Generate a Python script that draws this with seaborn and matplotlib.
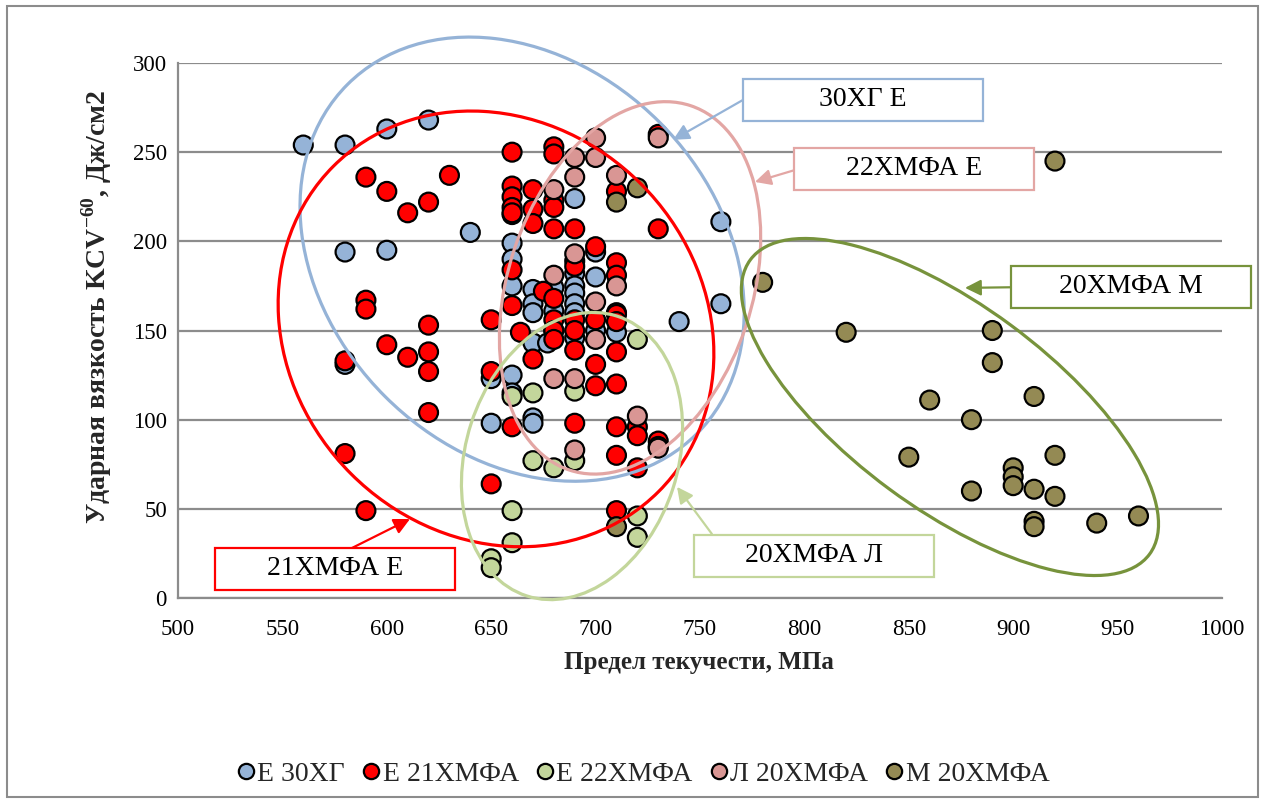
import matplotlib
matplotlib.use("Agg")
import matplotlib.pyplot as plt
import numpy as np
import pandas as pd
import seaborn as sns
from matplotlib.patches import Ellipse, Rectangle
from matplotlib.transforms import ScaledTranslation

# ---- series: yield strength (MPa) and impact toughness KCV-60 (J/cm2) ----
labels = ["Е 30ХГ", "Е 21ХМФА", "Е 22ХМФА", "Л 20ХМФА", "М 20ХМФА"]
colors = ["#95b3d7", "#ff0000", "#c3d69b", "#d99694", "#948a54"]

e30hg_x = [560, 580, 600, 620, 580, 600, 640, 580, 650, 650, 660, 660, 660, 660, 660, 660,
           670, 670, 670, 670, 670, 670, 677, 680, 680, 680, 690, 690, 690, 690, 690, 690, 690,
           700, 700, 700, 710, 710, 740, 760, 760]
e30hg_y = [254, 254, 263, 268, 194, 195, 205, 131, 123, 98, 215, 199, 190, 175, 125, 115,
           173, 165, 160, 143, 101, 98, 143, 174, 161, 150, 224, 182, 175, 171, 165, 160, 146,
           194, 180, 150, 160, 149, 155, 211, 165]

e21_x = [590, 600, 610, 620, 630, 590, 590, 580, 600, 610, 620, 620, 620, 620, 580, 590,
         650, 650, 650, 660, 660, 660, 660, 660, 660, 660, 660, 664, 670, 670, 670, 670, 675,
         680, 680, 680, 680, 680, 680, 680, 680, 680, 690, 690, 690, 690, 690, 690, 690,
         700, 700, 700, 700, 710, 710, 710, 710, 710, 710, 710, 710, 710, 710,
         720, 720, 720, 730, 730, 730, 730]
e21_y = [236, 228, 216, 222, 237, 167, 162, 133, 142, 135, 153, 138, 127, 104, 81, 49,
         156, 127, 64, 250, 231, 225, 219, 216, 184, 164, 96, 149, 229, 218, 210, 134, 172,
         253, 249, 223, 219, 207, 168, 156, 150, 145, 207, 189, 186, 156, 150, 139, 98,
         197, 156, 131, 119, 228, 188, 181, 159, 155, 138, 120, 96, 80, 49,
         96, 91, 73, 260, 207, 88, 85]

e22_x = [650, 650, 660, 660, 660, 670, 670, 680, 690, 690, 720, 720, 720]
e22_y = [22, 17, 113, 49, 31, 115, 77, 73, 116, 77, 145, 46, 34]

l20_x = [730, 700, 690, 700, 690, 710, 680, 680, 690, 700, 710, 700, 680, 690, 720, 730, 690]
l20_y = [258, 258, 247, 247, 236, 237, 229, 181, 193, 166, 175, 145, 123, 123, 102, 84, 83]

m20_x = [920, 780, 820, 890, 890, 860, 910, 880, 850, 920, 900, 900, 900, 880, 910, 920,
         910, 910, 940, 960, 720, 710, 710]
m20_y = [245, 177, 149, 150, 132, 111, 113, 100, 79, 80, 73, 68, 63, 60, 61, 57,
         43, 40, 42, 46, 230, 222, 40]

xs = [e30hg_x, e21_x, e22_x, l20_x, m20_x]
ys = [e30hg_y, e21_y, e22_y, l20_y, m20_y]
df = pd.concat(
    [pd.DataFrame({"x": x, "y": y, "series": lab}) for x, y, lab in zip(xs, ys, labels)],
    ignore_index=True,
)

# ---- grouping outlines and their callout boxes ----
# ellipse: centre (data), semi-axes (px), angle (deg), colour
groups = [
    ((664.8, 190.0), 247, 194, 135.0, "#95b3d7"),
    ((652.3, 150.9), 230, 205, 135.0, "#ff0000"),
    ((716.5, 173.9), 192, 122, 71.6, "#e3a6a4"),
    ((688.7, 79.6), 147, 106, 72.0, "#c3d69b"),
    ((869.7, 107.1), 248, 102, -36.4, "#77933c"),
]
# callout: text, box centre (data), arrow start -> arrow tip (data), colour
callouts = [
    ("30ХГ Е", (828.0, 279.3), (770.6, 279.3), (737.1, 256.9), "#95b3d7"),
    ("22ХМФА Е", (852.5, 240.6), (795.5, 240.0), (776.3, 233.3), "#e3a6a4"),
    ("20ХМФА М", (956.2, 174.4), (909.0, 174.4), (876.9, 173.9), "#77933c"),
    ("20ХМФА Л", (804.4, 23.8), (755.7, 35.9), (739.0, 62.3), "#c3d69b"),
    ("21ХМФА Е", (575.2, 16.3), (579.5, 25.8), (611.1, 44.3), "#ff0000"),
]
box_w, box_h = 240 / 2.088, 42 / 1.783

sns.set_theme(style="white")
plt.rcParams["font.family"] = ["Liberation Serif", "DejaVu Serif"]
plt.rcParams["mathtext.fontset"] = "custom"
plt.rcParams["mathtext.rm"] = "Liberation Serif"
plt.rcParams["mathtext.bf"] = "Liberation Serif:bold"

W, H = 1265, 801
fig = plt.figure(figsize=(W / 100, H / 100), dpi=100)
ax = fig.add_axes([178 / W, 1 - 598 / H, 1044 / W, 535 / H])

grey = "#8c8c8c"
sns.scatterplot(
    data=df, x="x", y="y", hue="series", hue_order=labels,
    palette=dict(zip(labels, colors)), s=185, edgecolor="black", linewidth=1.6,
    ax=ax, zorder=3, legend=True,
)

ax.set_xlim(500, 1000)
ax.set_ylim(0, 300)
ax.set_xticks(np.arange(500, 1001, 50))
ax.set_yticks(np.arange(0, 301, 50))
ax.set_xlabel("")
ax.set_ylabel("")
ax.yaxis.grid(True, color=grey, lw=1.6)
ax.xaxis.grid(False)
ax.set_axisbelow(True)
for side in ("top", "right"):
    ax.spines[side].set_visible(False)
for side in ("left", "bottom"):
    ax.spines[side].set_color(grey)
    ax.spines[side].set_linewidth(1.6)
ax.tick_params(axis="both", direction="out", length=6, width=1.5, color=grey,
               labelsize=16.5, labelcolor="black")
ax.tick_params(axis="y", pad=2)
ax.tick_params(axis="x", pad=9)

# group outlines, sized in pixels and anchored at a data point
for (cx, cy), a, b, ang, col in groups:
    tr = fig.dpi_scale_trans + ScaledTranslation(cx, cy, ax.transData)
    ax.add_patch(Ellipse((0, 0), 2 * a / 100, 2 * b / 100, angle=ang, transform=tr,
                         fill=False, edgecolor=col, lw=2.3, zorder=5, clip_on=False))

for text, (bx, by), (sx, sy), (tx, ty), col in callouts:
    ax.annotate("", xy=(tx, ty), xytext=(sx, sy),
                arrowprops=dict(arrowstyle="-|>", color=col, lw=1.6,
                                mutation_scale=24, shrinkA=0, shrinkB=0),
                zorder=6, annotation_clip=False)
    ax.add_patch(Rectangle((bx - box_w / 2, by - box_h / 2), box_w, box_h,
                           facecolor="white", edgecolor=col, lw=1.6, zorder=7,
                           clip_on=False))
    ax.text(bx, by, text, ha="center", va="center", fontsize=20, zorder=8,
            color="black")

fig.text(699 / W, 1 - 663 / H, "Предел текучести, МПа", ha="center", va="center",
         fontsize=18, fontweight="bold")
fig.text(97 / W, 1 - 307 / H, r"Ударная вязкость KCV$^{\mathbf{-60}}$, Дж/см2",
         ha="center", va="center", rotation=90, fontsize=20, fontweight="bold")

handles, leg_labels = ax.get_legend_handles_labels()
ax.get_legend().remove()
for h in handles:
    h.set_markersize(11)
    h.set_markeredgewidth(1.6)
    h.set_markeredgecolor("black")
fig.legend(handles, leg_labels, loc="center", bbox_to_anchor=(643 / W, 1 - 774 / H),
           ncol=5, frameon=False, fontsize=20, handletextpad=0.05,
           columnspacing=0.6, handlelength=0.7)

fig.add_artist(Rectangle((7 / W, 4 / H), (1258 - 7) / W, (795 - 4) / H,
                         transform=fig.transFigure, fill=False, edgecolor=grey, lw=1.5))

fig.savefig("out.png", dpi=100, facecolor="white")
